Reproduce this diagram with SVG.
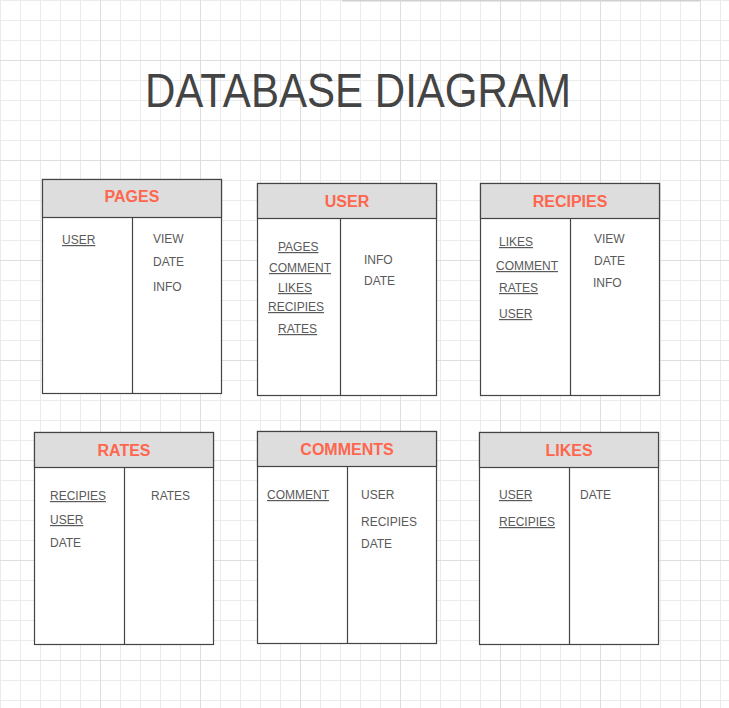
<svg xmlns="http://www.w3.org/2000/svg" width="729" height="708" viewBox="0 0 729 708">
<defs>
<pattern id="minor" x="0" y="0" width="20" height="20" patternUnits="userSpaceOnUse">
<path d="M0.5 0V20M0 0.5H20" fill="none" stroke="#ebebeb" stroke-width="1"/>
</pattern>
<style>
.box{fill:#ffffff;stroke:#444444;stroke-width:1.2}
.hdr{fill:#dddddd;stroke:#444444;stroke-width:1.2}
.div{stroke:#444444;stroke-width:1.2}
.ttl{font-family:"Liberation Sans",Arial,sans-serif;font-weight:bold;font-size:16px;fill:#ff664d;text-anchor:middle}
.fld{font-family:"Liberation Sans",Arial,sans-serif;font-size:12px;fill:#5a5a5a}
.key{text-decoration:underline}
.major{stroke:#dedede;stroke-width:1}
</style>
</defs>
<rect width="729" height="708" fill="#ffffff"/>
<rect width="729" height="708" fill="url(#minor)"/>
<g class="major">
<path d="M100.5 0V708M200.5 0V708M300.5 0V708M400.5 0V708M500.5 0V708M600.5 0V708M700.5 0V708"/>
<path d="M0 60.5H729M0 160.5H729M0 260.5H729M0 360.5H729M0 460.5H729M0 560.5H729M0 660.5H729"/>
</g>
<line x1="342" y1="0.8" x2="700" y2="0.8" stroke="#d0d0d0" stroke-width="1.6"/>
<text x="358" y="107" font-family="'Liberation Sans',Arial,sans-serif" font-size="48" fill="#444444" text-anchor="middle" textLength="426" lengthAdjust="spacingAndGlyphs">DATABASE DIAGRAM</text>

<g id="pages">
<rect class="box" x="42.5" y="179.5" width="179" height="214"/>
<rect class="hdr" x="42.5" y="179.5" width="179" height="38"/>
<line class="div" x1="132.5" y1="217.5" x2="132.5" y2="393.5"/>
<text class="ttl" x="132" y="202">PAGES</text>
<text class="fld key" x="62" y="244">USER</text>
<text class="fld" x="153" y="243">VIEW</text>
<text class="fld" x="153" y="266">DATE</text>
<text class="fld" x="153" y="291">INFO</text>
</g>

<g id="user">
<rect class="box" x="257.5" y="183.5" width="179" height="212"/>
<rect class="hdr" x="257.5" y="183.5" width="179" height="35"/>
<line class="div" x1="340.5" y1="218.5" x2="340.5" y2="395.5"/>
<text class="ttl" x="347" y="207">USER</text>
<text class="fld key" x="278" y="251">PAGES</text>
<text class="fld key" x="269" y="272">COMMENT</text>
<text class="fld key" x="278" y="292">LIKES</text>
<text class="fld key" x="268" y="311">RECIPIES</text>
<text class="fld key" x="278" y="333">RATES</text>
<text class="fld" x="364" y="264">INFO</text>
<text class="fld" x="364" y="285">DATE</text>
</g>

<g id="recipies">
<rect class="box" x="480.5" y="183.5" width="179" height="212"/>
<rect class="hdr" x="480.5" y="183.5" width="179" height="35"/>
<line class="div" x1="570.5" y1="218.5" x2="570.5" y2="395.5"/>
<text class="ttl" x="570" y="207">RECIPIES</text>
<text class="fld key" x="499" y="246">LIKES</text>
<text class="fld key" x="496" y="270">COMMENT</text>
<text class="fld key" x="499" y="292">RATES</text>
<text class="fld key" x="499" y="318">USER</text>
<text class="fld" x="594" y="243">VIEW</text>
<text class="fld" x="594" y="265">DATE</text>
<text class="fld" x="593" y="287">INFO</text>
</g>

<g id="rates">
<rect class="box" x="34.5" y="432.5" width="179" height="212"/>
<rect class="hdr" x="34.5" y="432.5" width="179" height="35"/>
<line class="div" x1="124.5" y1="467.5" x2="124.5" y2="644.5"/>
<text class="ttl" x="124" y="456">RATES</text>
<text class="fld key" x="50" y="500">RECIPIES</text>
<text class="fld key" x="50" y="524">USER</text>
<text class="fld" x="50" y="547">DATE</text>
<text class="fld" x="151" y="500">RATES</text>
</g>

<g id="comments">
<rect class="box" x="257.5" y="431.5" width="179" height="212"/>
<rect class="hdr" x="257.5" y="431.5" width="179" height="35"/>
<line class="div" x1="347.5" y1="466.5" x2="347.5" y2="643.5"/>
<text class="ttl" x="347" y="455">COMMENTS</text>
<text class="fld key" x="267" y="499">COMMENT</text>
<text class="fld" x="361" y="499">USER</text>
<text class="fld" x="361" y="526">RECIPIES</text>
<text class="fld" x="361" y="548">DATE</text>
</g>

<g id="likes">
<rect class="box" x="479.5" y="432.5" width="179" height="212"/>
<rect class="hdr" x="479.5" y="432.5" width="179" height="35"/>
<line class="div" x1="569.5" y1="467.5" x2="569.5" y2="644.5"/>
<text class="ttl" x="569" y="456">LIKES</text>
<text class="fld key" x="499" y="499">USER</text>
<text class="fld key" x="499" y="526">RECIPIES</text>
<text class="fld" x="580" y="499">DATE</text>
</g>

<g id="connectors"></g>
</svg>
